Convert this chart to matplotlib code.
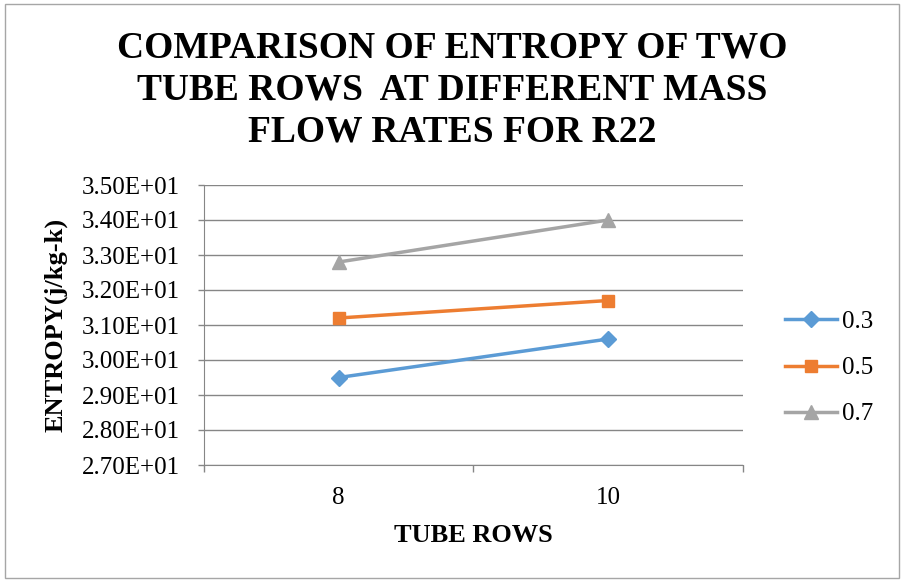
import matplotlib.pyplot as plt
from matplotlib.patches import Rectangle
from matplotlib.ticker import FuncFormatter

plt.rcParams["font.family"] = ["Liberation Serif", "DejaVu Serif"]

tube_rows = ["8", "10"]
flow_rates = ["0.3", "0.5", "0.7"]
entropy_03 = [29.5, 30.6]
entropy_05 = [31.2, 31.7]
entropy_07 = [32.8, 34.0]

series = [entropy_03, entropy_05, entropy_07]
colors = ["#5B9BD5", "#ED7D31", "#A5A5A5"]
markers = ["D", "s", "^"]
msizes = [8, 9, 10]

fig = plt.figure(figsize=(9.04, 5.82), dpi=100)
ax = fig.add_axes([204 / 904, 1 - 465 / 582, 539 / 904, 280 / 582])

x = [0.5, 1.5]
for vals, lab, c, m, ms in zip(series, flow_rates, colors, markers, msizes):
    ax.plot(x, vals, color=c, lw=2.5, marker=m, ms=ms, label=lab)

ax.set_xlim(0, 2)
ax.set_ylim(27, 35)
ax.set_yticks([27 + i for i in range(9)])
ax.yaxis.set_major_formatter(FuncFormatter(lambda v, p: f"{v:.2E}"))
ax.set_xticks(x)
ax.set_xticklabels(tube_rows)
ax.set_xticks([0, 1, 2], minor=True)
ax.tick_params(axis="x", which="major", length=0, labelsize=18, pad=16)
ax.tick_params(axis="x", which="minor", length=5, color="#868686", width=1)
ax.tick_params(axis="y", length=4.5, color="#868686", width=1, labelsize=18, pad=13)
ax.grid(axis="y", color="#868686", lw=1)
ax.set_axisbelow(True)
for s in ["top", "right"]:
    ax.spines[s].set_visible(False)
for s in ["left", "bottom"]:
    ax.spines[s].set_color("#868686")

ax.set_xlabel("TUBE ROWS", fontsize=19, fontweight="bold", labelpad=11)
ax.set_ylabel("ENTROPY(j/kg-k)", fontsize=19, fontweight="bold", labelpad=10)

fig.text(0.5, 1 - 90 / 582,
         "COMPARISON OF ENTROPY OF TWO\nTUBE ROWS  AT DIFFERENT MASS\nFLOW RATES FOR R22",
         ha="center", va="center", fontsize=27, fontweight="bold", linespacing=1.27)

fig.legend(loc="center left", bbox_to_anchor=(785 / 904, 1 - 368 / 582),
           frameon=False, fontsize=18, handlelength=2.1, labelspacing=0.95,
           handletextpad=0.2, borderpad=0, borderaxespad=0)

fig.patches.append(Rectangle((5 / 904, 4 / 582), 894 / 904, 574 / 582,
                             transform=fig.transFigure, fill=False,
                             edgecolor="#A6A6A6", lw=1))

fig.savefig("out.png", dpi=100)
